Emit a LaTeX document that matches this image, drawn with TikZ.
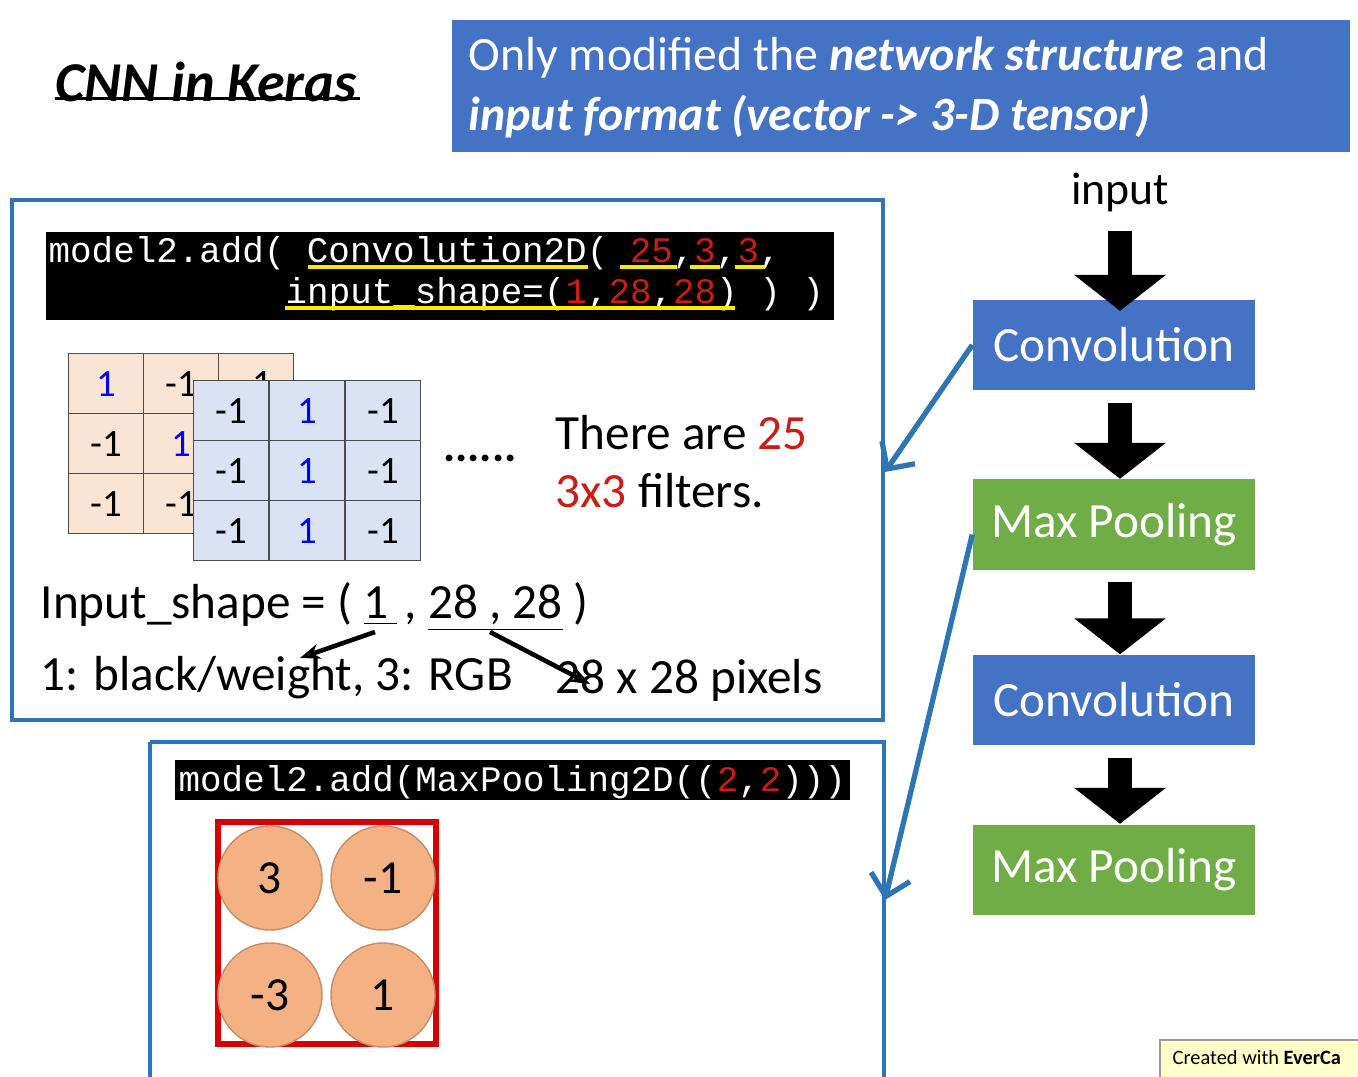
\documentclass[tikz,border=0pt]{standalone}
\usepackage{fontspec}
\setmainfont{Carlito}
\newfontfamily\codefont{Liberation Mono}
\usetikzlibrary{arrows.meta,positioning}
\definecolor{slideBlue}{RGB}{68,114,196}
\definecolor{slideGreen}{RGB}{112,173,71}
\definecolor{frameBlue}{RGB}{46,117,182}
\definecolor{codeRed}{RGB}{200,30,20}
\definecolor{cellPink}{RGB}{250,228,212}
\definecolor{cellBlue}{RGB}{218,227,243}
\definecolor{ballOrange}{RGB}{244,177,131}
\definecolor{noteYellow}{RGB}{255,255,204}
\begin{document}
\begin{tikzpicture}[x=0.01cm,y=-0.01cm,
    layer/.style={draw=none,minimum width=2.82cm,minimum height=0.9cm,
        text=white,font=\fontsize{14}{16}\selectfont},
    conv/.style={layer,fill=slideBlue},
    pool/.style={layer,fill=slideGreen},
    flow/.style={line width=0.24cm,-{Triangle[length=0.36cm,width=0.9cm]}},
    panel/.style={draw=frameBlue,line width=1.2pt},
    link/.style={draw=frameBlue,line width=1.5pt,-{Straight Barb[length=0.2cm]}},
    code/.style={text=white,anchor=base west,inner sep=0pt,
        font=\codefont\fontsize{10.2}{13}\selectfont},
    hilite/.style={yellow!90!orange,line width=1.3pt},
    cell/.style={draw=black!70,minimum width=0.75cm,minimum height=0.6cm,
        inner sep=0pt,font=\fontsize{11}{13}\selectfont},
    ball/.style={circle,fill=ballOrange,draw=ballOrange!80!black,minimum size=1.04cm,
        inner sep=0pt,font=\fontsize{13.5}{15}\selectfont},
    txt/.style={anchor=west,inner sep=0pt,font=\fontsize{14}{16}\selectfont}]
\useasboundingbox (0,0) rectangle (1358,1076);

% title and banner
\node[anchor=west,inner sep=0pt,font=\fontsize{16}{18}\selectfont\bfseries\itshape]
    (title) at (55,82) {CNN in Keras};
\draw[line width=1pt] (title.south west) ++(0,-4) -- ++(305,0);
\fill[slideBlue] (452,20) rectangle (1350,152);
\node[anchor=north west,inner sep=0pt,align=left,text=white,
    font=\fontsize{13.6}{17}\selectfont]
    (banner) at (468,36) {Only modified the \textbf{\textit{network structure}} and\\
    \textbf{\textit{input format (vector -> 3-D tensor)}}};

% network on the right
\node[font=\fontsize{13}{15}\selectfont] (inp) at (1120,192) {input};
\node[conv] (c1) at (1114,345) {Convolution};
\node[pool,below=0.88cm of c1] (p1) {Max Pooling};
\node[conv,below=0.84cm of p1] (c2) {Convolution};
\node[pool,below=0.78cm of c2] (p2) {Max Pooling};
\draw[flow] (inp.south)++(0,7) -- ++(0,80);
\foreach \a/\b in {c1/p1,p1/c2,c2/p2}
    \draw[flow] ([xshift=0.06cm]\a.south)++(0,12) -- ([xshift=0.06cm]\b.north);

% first panel
\draw[panel] (12,200) rectangle (883,720);
\fill[black] (46,232) rectangle (834,320);
\node[code] (code1a) at (48,262)
    {model2.add( Convolution2D( \textcolor{codeRed}{25},\textcolor{codeRed}{3},\textcolor{codeRed}{3},};
\node[code] (code1b) at (285,303)
    {input\_shape=(\textcolor{codeRed}{1},\textcolor{codeRed}{28},\textcolor{codeRed}{28}) ) )};
\draw[hilite] (308,267) -- (588,267);
\draw[hilite] (620,267) -- (677,267);
\draw[hilite] (690,267) -- (720,267);
\draw[hilite] (735,267) -- (765,267);
\draw[hilite] (285,308) -- (735,308);

% filters
\foreach \v [count=\i from 0] in {1,-1,-1,-1,1,-1,-1,-1,1}
    \node[cell,fill=cellPink,anchor=north west] (m\i)
        at ({68+75*mod(\i,3)},{353+60*int(\i/3)})
        {\ifnum\i=0 \textcolor{blue}{\v}\else\ifnum\i=4 \textcolor{blue}{\v}\else\v\fi\fi};
\foreach \v [count=\i from 0] in {-1,1,-1,-1,1,-1,-1,1,-1}
    \node[cell,fill=cellBlue,anchor=north west] (f\i)
        at ({193+76*mod(\i,3)},{380+60*int(\i/3)})
        {\ifnum\i=1 \textcolor{blue}{\v}\else\ifnum\i=4 \textcolor{blue}{\v}\else\ifnum\i=7 \textcolor{blue}{\v}\else\v\fi\fi\fi};
\node[font=\bfseries\fontsize{13}{15}\selectfont] (dots) at (480,458) {......};
\node[txt,align=left,font=\fontsize{14}{16.5}\selectfont] (filt) at (555,462)
    {There are \textcolor{codeRed}{25}\\\textcolor{codeRed}{3x3} filters.};

\node[txt] (shape) at (40,607) {Input\_shape = ( \underline{1\,}\,, \underline{28 , 28} )};
\node[txt] (chan) at (40,678) {1: black/weight, 3: RGB};
\node[txt] (pix) at (555,680) {28 x 28 pixels};
\coordinate (one) at (375,632);
\coordinate (size) at (490,632);
\draw[line width=1.3pt,-{Stealth[length=0.2cm]}] (one) -- (300,658);
\draw[line width=1.3pt,-{Stealth[length=0.2cm]}] (size) -- (590,684);

% second panel
\draw[panel] (150,742) -- (150,1078) (884,1078) -- (884,742) -- (150,742);
\fill[black] (175,760) rectangle (850,800);
\node[code] (code2) at (178,791)
    {model2.add(MaxPooling2D((\textcolor{codeRed}{2},\textcolor{codeRed}{2})))};
\draw[draw=red!85!black,line width=1.8pt] (218,822) rectangle (436,1044);
\node[ball] (b1) at (270,878) {3};
\node[ball] (b2) at (383,878) {-1};
\node[ball] (b3) at (270,995) {-3};
\node[ball] (b4) at (383,995) {1};

% links
\coordinate (hit1) at (885,472);
\coordinate (hit2) at (885,900);
\draw[link] (c1.west) -- (hit1);
\draw[link] ([yshift=-0.1cm]p1.west) -- (hit2);

\fill[noteYellow,draw=black!40] (1160,1040) rectangle (1362,1080);
\node[anchor=west,inner sep=0pt,font=\fontsize{5.8}{7}\selectfont]
    (note) at (1172,1057) {Created with \textbf{EverCa}};
\end{tikzpicture}
\end{document}
